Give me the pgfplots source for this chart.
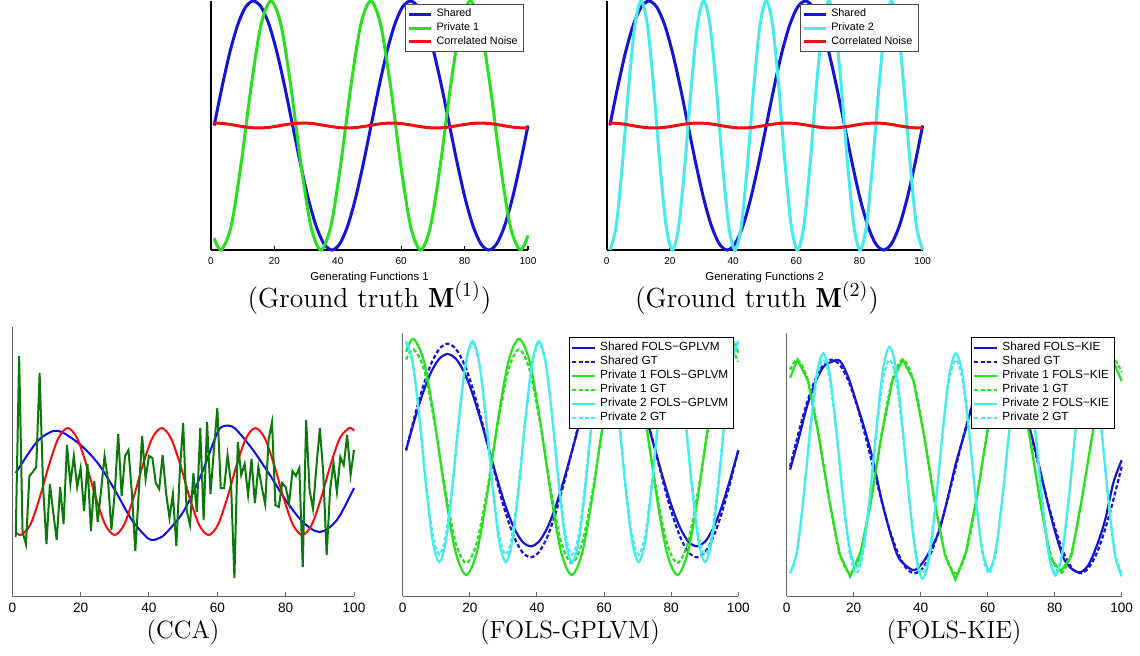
\documentclass[border=0pt]{standalone}
\usepackage{fontspec}
\usepackage{pgfplots}
\pgfplotsset{compat=1.18}
\usepackage{pgfplotstable}
\newfontfamily\hv{Liberation Sans}

\definecolor{mblue}{RGB}{20,20,215}
\definecolor{mgreen}{RGB}{40,225,30}
\definecolor{mcyan}{RGB}{70,235,235}
\definecolor{mred}{RGB}{240,15,15}
\definecolor{cblue}{RGB}{10,10,245}
\definecolor{cred}{RGB}{250,10,10}
\definecolor{cgreen}{RGB}{10,120,10}

% shared latent: s = ground truth, md = GT in GPLVM panel, g = FOLS-GPLVM, k = FOLS-KIE
\pgfplotstableread{
x s md g k
1 0 .025 .028 -.03
3.48 .309 .334 .306 .25
5.95 .588 .613 .557 .55
8.43 .809 .834 .756 .78
10.9 .951 .976 .884 .93
13.38 1 1.025 .928 .98
15.85 .951 .976 .884 .99
18.33 .809 .834 .756 .84
20.8 .588 .613 .557 .6
23.28 .309 .334 .306 .35
25.75 0 .025 .028 .06
28.23 -.309 -.284 -.25 -.3
30.7 -.588 -.563 -.501 -.6
33.18 -.809 -.784 -.7 -.84
35.65 -.951 -.926 -.828 -.93
38.13 -1 -.975 -.872 -.97
40.6 -.951 -.926 -.828 -.9
43.08 -.809 -.784 -.7 -.77
45.55 -.588 -.563 -.501 -.6
48.03 -.309 -.284 -.25 -.3
50.5 0 .025 .028 .03
52.98 .309 .334 .306 .3
55.45 .588 .613 .557 .58
57.93 .809 .834 .756 .81
60.4 .951 .976 .884 .95
62.88 1 1.025 .928 1
65.35 .951 .976 .884 .95
67.83 .809 .834 .756 .8
70.3 .588 .613 .557 .6
72.78 .309 .334 .306 .33
75.25 0 .025 .028 .02
77.73 -.309 -.284 -.25 -.32
80.2 -.588 -.563 -.501 -.62
82.68 -.809 -.784 -.7 -.86
85.15 -.951 -.926 -.828 -.96
87.63 -1 -.975 -.872 -.99
90.1 -.951 -.926 -.828 -.92
92.58 -.809 -.784 -.7 -.74
95.05 -.588 -.563 -.501 -.5
97.53 -.309 -.284 -.25 -.15
100 0 .025 .028 .06
}\shared

% private 1: t = top panel, r = GT in KIE panel, m = GT in GPLVM panel, g = FOLS-GPLVM, k = FOLS-KIE
\pgfplotstableread{
x t r m g k
1 -.905 .905 .877 .95 .83
3.2 -1 1 .972 1.07 1
6.35 -.809 .809 .781 .859 .8
9.49 -.309 .309 .281 .306 .3
12.64 .309 -.309 -.337 -.376 -.3
15.78 .809 -.809 -.837 -.929 -.82
18.93 1 -1 -1.028 -1.14 -1.03
22.07 .809 -.809 -.837 -.929 -.8
25.22 .309 -.309 -.337 -.376 -.31
28.36 -.309 .309 .281 .306 .3
31.51 -.809 .809 .781 .859 .8
34.65 -1 1 .972 1.07 1
37.8 -.809 .809 .781 .859 .81
40.94 -.309 .309 .281 .306 .3
44.09 .309 -.309 -.337 -.376 -.32
47.23 .809 -.809 -.837 -.929 -.83
50.38 1 -1 -1.028 -1.14 -1.06
53.52 .809 -.809 -.837 -.929 -.8
56.67 .309 -.309 -.337 -.376 -.3
59.81 -.309 .309 .281 .306 .31
62.96 -.809 .809 .781 .859 .8
66.1 -1 1 .972 1.07 1
69.25 -.809 .809 .781 .859 .8
72.39 -.309 .309 .281 .306 .3
75.54 .309 -.309 -.337 -.376 -.3
78.68 .809 -.809 -.837 -.929 -.86
81.83 1 -1 -1.028 -1.14 -.98
84.97 .809 -.809 -.837 -.929 -.84
88.12 .309 -.309 -.337 -.376 -.3
91.26 -.309 .309 .281 .306 .3
94.41 -.809 .809 .781 .859 .79
97.55 -1 1 .972 1.07 .98
100 -.883 .883 .855 .94 .8
}\privA

% private 2: t = top panel and GT in KIE panel, m = GT in GPLVM panel, g = FOLS-GPLVM, k = FOLS-KIE
\pgfplotstableread{
x t m g k
1 -1 1.03 1.05 -1
2.98 -.809 .841 .852 -.809
4.96 -.309 .346 .335 -.309
6.94 .309 -.266 -.305 .328
8.92 .809 -.761 -.822 .858
10.9 1 -.95 -1.02 1.06
12.88 .809 -.761 -.822 .858
14.86 .309 -.266 -.305 .328
16.84 -.309 .346 .335 -.294
18.82 -.809 .841 .852 -.769
20.8 -1 1.03 1.05 -.95
22.78 -.809 .841 .852 -.769
24.76 -.309 .346 .335 -.294
26.74 .309 -.266 -.305 .346
28.72 .809 -.761 -.822 .906
30.7 1 -.95 -1.02 1.12
32.68 .809 -.761 -.822 .906
34.66 .309 -.266 -.305 .346
36.64 -.309 .346 .335 -.324
38.62 -.809 .841 .852 -.849
40.6 -1 1.03 1.05 -1.05
42.58 -.809 .841 .852 -.849
44.56 -.309 .346 .335 -.324
46.54 .309 -.266 -.305 .328
48.52 .809 -.761 -.822 .858
50.5 1 -.95 -1.02 1.06
52.48 .809 -.761 -.822 .858
54.46 .309 -.266 -.305 .328
56.44 -.309 .346 .335 -.3
58.42 -.809 .841 .852 -.785
60.4 -1 1.03 1.05 -.97
62.38 -.809 .841 .852 -.785
64.36 -.309 .346 .335 -.3
66.34 .309 -.266 -.305 .309
68.32 .809 -.761 -.822 .809
70.3 1 -.95 -1.02 1
72.28 .809 -.761 -.822 .809
74.26 .309 -.266 -.305 .309
76.24 -.309 .346 .335 -.315
78.22 -.809 .841 .852 -.825
80.2 -1 1.03 1.05 -1.02
82.18 -.809 .841 .852 -.825
84.16 -.309 .346 .335 -.315
86.14 .309 -.266 -.305 .309
88.12 .809 -.761 -.822 .809
90.1 1 -.95 -1.02 1
92.08 .809 -.761 -.822 .809
94.06 .309 -.266 -.305 .309
96.04 -.309 .346 .335 -.318
98.02 -.809 .841 .852 -.833
100 -1 1.03 1.05 -1.03
}\privB

\pgfplotstableread{
x y
1 .02
3.8 .0162
6.6 .0062
9.4 -.0062
12.2 -.0162
15 -.02
17.8 -.0162
20.6 -.0062
23.4 .0062
26.2 .0162
29 .02
31.8 .0162
34.6 .0062
37.4 -.0062
40.2 -.0162
43 -.02
45.8 -.0162
48.6 -.0062
51.4 .0062
54.2 .0162
57 .02
59.8 .0162
62.6 .0062
65.4 -.0062
68.2 -.0162
71 -.02
73.8 -.0162
76.6 -.0062
79.4 .0062
82.2 .0162
85 .02
87.8 .0162
90.6 .0062
93.4 -.0062
96.2 -.0162
99 -.02
100 -.0195
}\noise

% CCA panel
\pgfplotstableread{
x y
1 123
5 144
8 157
12 165
15 163
20 151
25 133
30 106
35 76
40 57
43 58
45 63
50 84
55 119
60 163
62 170
65 168
70 148
75 123
80 96
85 74
90 64
95 76
100 108
}\ccablue

\pgfplotstableread{
x y
1 64.2
2.5 61
5.25 71.2
7.99 98
10.74 131
13.48 157.8
16.23 168
18.98 157.8
21.72 131
24.47 98
27.21 71.2
29.96 61
32.71 71.2
35.45 98
38.2 131
40.94 157.8
43.69 168
46.44 157.8
49.18 131
51.93 98
54.67 71.2
57.42 61
60.17 71.2
62.91 98
65.66 131
68.4 157.8
71.15 168
73.9 157.8
76.64 131
79.39 98
82.13 71.2
84.88 61
87.63 71.2
90.37 98
93.12 131
95.86 157.8
98.61 168
100 165.3
}\ccared

\pgfplotstableread{
x y
1 59
2 240
3 64
4 52
5 120
6 124
7 129
8 223
9 110
10 52
11 112
12 83
13 56
14 109
15 72
16 151
17 112
18 140
19 109
20 128
21 85
22 132
23 65
24 115
25 74
26 106
27 140
28 116
29 66
30 104
31 162
32 100
33 140
34 146
35 103
36 45
37 103
38 160
39 117
40 140
41 138
42 113
43 107
44 141
45 103
46 78
47 102
48 50
49 123
50 173
51 86
52 71
53 123
54 84
55 168
56 76
57 174
58 102
59 146
60 188
61 108
62 108
63 141
64 113
65 18
66 154
67 121
68 132
69 101
70 137
71 93
72 129
73 109
74 92
75 156
76 174
77 91
78 89
79 113
80 109
81 93
82 125
83 120
84 128
85 29
86 176
87 106
88 87
89 129
90 168
91 123
92 41
93 106
94 133
95 104
96 139
97 131
98 161
99 121
100 146
}\ccagreen

\pgfplotsset{
  panel/.style={
    scale only axis, anchor=north west,
    xmin=0, xmax=100, xtick={0,20,...,100}, ytick=\empty,
    axis x line*=bottom, axis y line*=left, clip=false,
    tick align=inside, major tick length=2pt,
    /pgf/number format/assume math mode=true,
    legend cell align=left,
    legend image code/.code={\draw[#1] (0pt,0pt) -- (11pt,0pt);},
  },
  toppanel/.style={
    panel, width=158.5pt, height=124.5pt, ymin=-1, ymax=1,
    axis line style={line width=1pt, black},
    xtick style={black, line width=0.6pt},
    xticklabel style={font=\hv\fontsize{5}{6}\selectfont},
    xlabel style={font=\hv\fontsize{5.7}{7}\selectfont, yshift=3pt},
    legend style={at={(1,1)}, anchor=north east, xshift=-2pt, yshift=-1.5pt,
      font=\hv\fontsize{5.4}{6}\selectfont, draw=black!70, line width=0.4pt,
      inner xsep=1pt, inner ysep=0.3pt, row sep=-2.6pt},
  },
  botpanel/.style={
    panel, height=131.5pt,
    axis line style={line width=0.5pt, black!60},
    xtick style={black!60, line width=0.5pt},
    xticklabel style={font=\hv\fontsize{6.8}{8}\selectfont},
    legend image code/.code={\draw[#1] (0pt,0pt) -- (11.5pt,0pt);},
    legend style={at={(1,1)}, anchor=north east, xshift=-2pt, yshift=-2pt,
      font=\hv\fontsize{5.9}{7}\selectfont, draw=black, line width=0.5pt,
      inner xsep=0.8pt, inner ysep=0.3pt, row sep=-2.8pt},
  },
}

\begin{document}
\begin{tikzpicture}
\useasboundingbox (0pt,0pt) rectangle (570pt,-327.5pt);

% Ground truth M(1)
\begin{axis}[toppanel, at={(105.5pt,-0.5pt)}, xlabel={Generating Functions 1}]
\addplot[mblue, line width=1.5pt, smooth] table[x=x, y=s] {\shared};
\addplot[mgreen, line width=1.5pt, smooth] table[x=x, y=t] {\privA};
\addplot[mred, line width=1.5pt, smooth] table[x=x, y=y] {\noise};
\legend{Shared, Private 1, Correlated Noise}
\end{axis}

% Ground truth M(2)
\begin{axis}[toppanel, at={(303.35pt,-0.5pt)}, width=158pt, xlabel={Generating Functions 2}]
\addplot[mblue, line width=1.5pt, smooth] table[x=x, y=s] {\shared};
\addplot[mcyan, line width=1.5pt, smooth] table[x=x, y=t] {\privB};
\addplot[mred, line width=1.5pt, smooth] table[x=x, y=y] {\noise};
\legend{Shared, Private 2, Correlated Noise}
\end{axis}

% CCA
\begin{axis}[botpanel, at={(6.15pt,-163.5pt)}, width=170.85pt, height=134.5pt, ymin=0, ymax=269]
\addplot[cblue, line width=1pt, smooth] table[x=x, y=y] {\ccablue};
\addplot[cred, line width=1pt, smooth] table[x=x, y=y] {\ccared};
\addplot[cgreen, line width=1pt] table[x=x, y=y] {\ccagreen};
\end{axis}

% FOLS-GPLVM
\begin{axis}[botpanel, at={(201.35pt,-166.5pt)}, width=167.8pt, ymin=-1.3375, ymax=1.125]
\addplot[mblue, line width=1.1pt, smooth] table[x=x, y=g] {\shared};
\addplot[mblue, line width=1.1pt, smooth, dash pattern=on 2pt off 1.2pt] table[x=x, y=md] {\shared};
\addplot[mgreen, line width=1.1pt, smooth] table[x=x, y=g] {\privA};
\addplot[mgreen, line width=1.1pt, smooth, dash pattern=on 2pt off 1.2pt] table[x=x, y=m] {\privA};
\addplot[mcyan, line width=1.1pt, smooth] table[x=x, y=g] {\privB};
\addplot[mcyan, line width=1.1pt, smooth, dash pattern=on 2pt off 1.2pt] table[x=x, y=m] {\privB};
\legend{Shared FOLS−GPLVM, Shared GT, Private 1 FOLS−GPLVM, Private 1 GT, Private 2 FOLS−GPLVM, Private 2 GT}
\end{axis}

% FOLS-KIE
\begin{axis}[botpanel, at={(393.35pt,-166.5pt)}, width=167.5pt, ymin=-1.2125, ymax=1.25,
  legend style={xshift=-1.3pt}]
\addplot[mblue, line width=1.1pt, smooth] table[x=x, y=k] {\shared};
\addplot[mblue, line width=1.1pt, smooth, dash pattern=on 2pt off 1.2pt] table[x=x, y=s] {\shared};
\addplot[mgreen, line width=1.1pt] table[x=x, y=k] {\privA};
\addplot[mgreen, line width=1.1pt, smooth, dash pattern=on 2pt off 1.2pt] table[x=x, y=r] {\privA};
\addplot[mcyan, line width=1.1pt, smooth] table[x=x, y=k] {\privB};
\addplot[mcyan, line width=1.1pt, smooth, dash pattern=on 2pt off 1.2pt] table[x=x, y=t] {\privB};
\legend{Shared FOLS−KIE, Shared GT, Private 1 FOLS−KIE, Private 1 GT, Private 2 FOLS−KIE, Private 2 GT}
\end{axis}

\node[font=\fontsize{13.8}{16}\selectfont] at (184.75pt,-149pt) {(Ground truth $\mathbf{M}^{(1)}$)};
\node[font=\fontsize{13.8}{16}\selectfont] at (378.5pt,-149pt) {(Ground truth $\mathbf{M}^{(2)}$)};
\node[font=\fontsize{12.5}{15}\selectfont] at (91.5pt,-316pt) {(CCA)};
\node[font=\fontsize{12.5}{15}\selectfont] at (285pt,-316pt) {(FOLS-GPLVM)};
\node[font=\fontsize{12.5}{15}\selectfont] at (477pt,-316pt) {(FOLS-KIE)};
\end{tikzpicture}
\end{document}
